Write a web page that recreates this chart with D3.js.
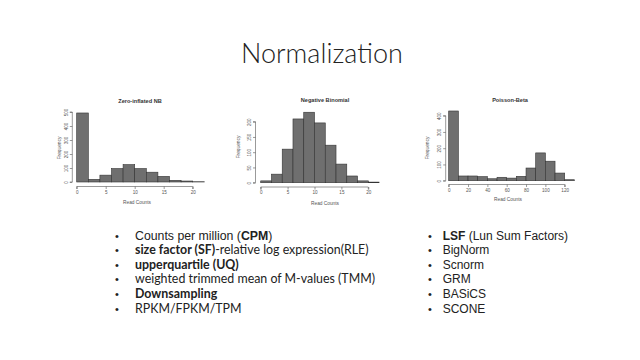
<!DOCTYPE html>
<html><head><meta charset="utf-8">
<script src="https://cdn.jsdelivr.net/npm/d3@7"></script>
<style>
html,body{margin:0;padding:0;background:#fff;}
svg{display:block;}
</style></head>
<body>
<svg id="c" width="640" height="360"></svg>
<script>
// ---- Data ----
const slideTitle = "Normalization";
const histTitles = ["Zero-inflated NB", "Negative Binomial", "Poisson-Beta"];
const xLabel = "Read Counts";
const yLabel = "Frequency";

const zinbEdges = [0,2,4,6,8,10,12,14,16,18,20,22];
const zinbCounts = [493, 19, 49, 96, 124, 96, 70, 40, 12, 7, 2];
const zinbXTicks = [0,5,10,15,20];
const zinbYTicks = [0,100,200,300,400,500];

const nbEdges = [0,2,4,6,8,10,12,14,16,18,20,22];
const nbCounts = [6, 28, 110, 209, 231, 196, 123, 61, 22, 6, 2];
const nbXTicks = [0,5,10,15,20];
const nbYTicks = [0,50,100,150,200];

const pbEdges = [0,10,20,30,40,50,60,70,80,90,100,110,120,130];
const pbCounts = [429, 29, 29, 25, 12, 21, 16, 27, 78, 171, 120, 47, 6];
const pbXTicks = [0,20,40,60,80,100,120];
const pbYTicks = [0,100,200,300,400];

const leftItems = [
  [{t:"Counts per million (", b:false, arial:true},{t:"CPM", b:true, arial:true},{t:")", b:false, arial:true}],
  [{t:"size factor (SF)", b:true},{t:"-relative log expression(RLE)", b:false}],
  [{t:"upperquartile (UQ)", b:true}],
  [{t:"weighted trimmed mean of M-values (TMM)", b:false}],
  [{t:"Downsampling", b:true}],
  [{t:"RPKM/FPKM/TPM", b:false}]
];
const rightItems = [
  [{t:"LSF", b:true, arial:true},{t:" (Lun Sum Factors)", b:false, arial:true}],
  [{t:"BigNorm", b:false, arial:true}],
  [{t:"Scnorm", b:false, arial:true}],
  [{t:"GRM", b:false, arial:true}],
  [{t:"BASiCS", b:false, arial:true}],
  [{t:"SCONE", b:false, arial:true}]
];

// ---- Drawing ----
const svg = d3.select("#c");
svg.append("rect").attr("width",640).attr("height",360).attr("fill","#fff");

svg.append("text").attr("x",322).attr("y",63).attr("text-anchor","middle")
  .attr("font-family","Lato, 'Open Sans', sans-serif").attr("font-weight",300)
  .attr("font-size",27).attr("fill","#222").text(slideTitle);

function hist(cfg){
  const g = svg.append("g");
  const x = d3.scaleLinear().domain(cfg.xDom).range(cfg.xRange);
  const y = d3.scaleLinear().domain(cfg.yDom).range(cfg.yRange);
  const bins = cfg.counts.map((c,i)=>({x0:cfg.edges[i], x1:cfg.edges[i+1], c}));
  g.selectAll("rect.bar").data(bins).join("rect").attr("class","bar")
    .attr("x",d=>x(d.x0)).attr("width",d=>x(d.x1)-x(d.x0))
    .attr("y",d=>y(d.c)).attr("height",d=>y(0)-y(d.c))
    .attr("fill","#6f6f6f").attr("stroke","#333").attr("stroke-width",0.6);
  const xa = d3.axisBottom(x).tickValues(cfg.xTicks).tickSize(2.5).tickPadding(1.5);
  const gx = g.append("g").attr("transform",`translate(0,${cfg.xAxisY})`).call(xa);
  const ya = d3.axisLeft(y).tickValues(cfg.yTicks).tickSize(2.5).tickPadding(1.5);
  const gy = g.append("g").attr("transform",`translate(${cfg.yAxisX},0)`).call(ya);
  gy.selectAll(".tick text").attr("transform","rotate(-90)")
    .attr("text-anchor","middle").attr("x",0).attr("dy",0).attr("y",-4.5);
  [gx,gy].forEach(a=>{
    a.selectAll("path,line").attr("stroke","#555").attr("stroke-width",0.6);
    a.selectAll("text").attr("font-size",4.6).attr("fill","#555")
      .attr("font-family","'Liberation Sans', Arial, sans-serif");
  });
  gx.select(".domain").attr("d",`M${x(cfg.xTicks[0])},2.5V0H${x(cfg.xTicks[cfg.xTicks.length-1])}V2.5`);
  gy.select(".domain").attr("d",`M-2.5,${y(cfg.yTicks[0])}H0V${y(cfg.yTicks[cfg.yTicks.length-1])}H-2.5`);
  g.append("text").attr("x",cfg.titleX).attr("y",cfg.titleY).attr("text-anchor","middle")
    .attr("font-family","'Liberation Sans', Arial, sans-serif").attr("font-weight","bold")
    .attr("font-size",5.6).attr("fill","#333").text(cfg.title);
  g.append("text").attr("x",cfg.xlabX).attr("y",cfg.xlabY).attr("text-anchor","middle")
    .attr("font-family","'Liberation Sans', Arial, sans-serif")
    .attr("font-size",4.8).attr("fill","#555").text(xLabel);
  g.append("text").attr("transform",`translate(${cfg.ylabX},${cfg.ylabY}) rotate(-90)`)
    .attr("text-anchor","middle")
    .attr("font-family","'Liberation Sans', Arial, sans-serif")
    .attr("font-size",4.8).attr("fill","#555").text(yLabel);
}

hist({title:histTitles[0], edges:zinbEdges, counts:zinbCounts, xTicks:zinbXTicks, yTicks:zinbYTicks,
  xDom:[0,20], xRange:[76.7,192.7], yDom:[0,500], yRange:[182,112],
  xAxisY:186.5, yAxisX:72.3, titleX:140, titleY:103, xlabX:137, xlabY:204, ylabX:61, ylabY:148});
hist({title:histTitles[1], edges:nbEdges, counts:nbCounts, xTicks:nbXTicks, yTicks:nbYTicks,
  xDom:[0,20], xRange:[260.7,368.3], yDom:[0,200], yRange:[182.7,121.7],
  xAxisY:187, yAxisX:255.5, titleX:325, titleY:102, xlabX:325, xlabY:205, ylabX:240, ylabY:147});
hist({title:histTitles[2], edges:pbEdges, counts:pbCounts, xTicks:pbXTicks, yTicks:pbYTicks,
  xDom:[0,120], xRange:[448.7,564.7], yDom:[0,400], yRange:[180.7,115.7],
  xAxisY:184.5, yAxisX:445.7, titleX:510, titleY:102, xlabX:508, xlabY:200.5, ylabX:428.5, ylabY:148});

function bullets(items, bx, tx, y0, dy, arialSize){
  items.forEach((parts,i)=>{
    const y = y0 + i*dy;
    svg.append("text").attr("x",bx).attr("y",y).attr("text-anchor","middle")
      .attr("font-family","'Liberation Sans', Arial, sans-serif").attr("font-size",11)
      .attr("fill","#222").text("•");
    const t = svg.append("text").attr("x",tx).attr("y",y).attr("fill","#222");
    parts.forEach(p=>{
      t.append("tspan").text(p.t)
        .attr("font-family", p.arial ? "'Liberation Sans', Arial, sans-serif" : "Lato, 'Open Sans', sans-serif")
        .attr("font-size", p.arial ? arialSize : 12.4)
        .attr("font-weight", p.b ? "bold" : "normal")
        .style("white-space","pre");
    });
  });
}
bullets(leftItems, 117, 135, 239.5, 14.6, 12.3);
bullets(rightItems, 430, 442.7, 239.5, 14.6, 12);
</script>
</body></html>
